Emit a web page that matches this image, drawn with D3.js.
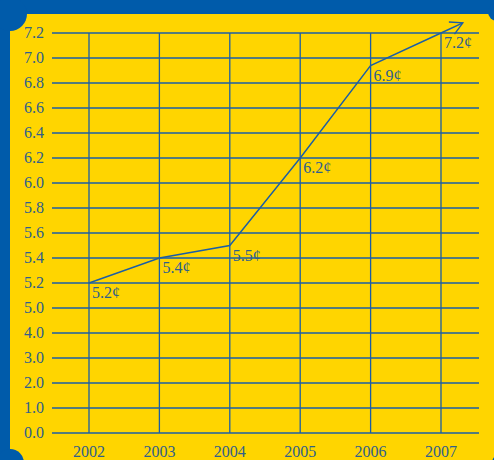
<!DOCTYPE html>
<meta charset="utf-8">
<style>
  body { margin: 0; }
  text { font-family: "Liberation Serif", "Times New Roman", serif; }
</style>
<svg width="494" height="460"></svg>
<script src="https://d3js.org/d3.v7.min.js"></script>
<script>

var years = [2002, 2003, 2004, 2005, 2006, 2007];
var prices = [5.2, 5.4, 5.5, 6.2, 6.94, 7.2];
var yTicks = [0, 1, 2, 3, 4, 5, 5.2, 5.4, 5.6, 5.8, 6.0, 6.2, 6.4, 6.6, 6.8, 7.0, 7.2];

var blue = "#005baa",
    yellow = "#ffd500",
    ink = "#1b5ea6",
    textInk = "#2f5f8c";

var svg = d3.select("svg");

// frame
svg.append("rect").attr("width", 494).attr("height", 460).attr("fill", blue);
svg.append("rect").attr("x", 10).attr("y", 14).attr("width", 484).attr("height", 446).attr("fill", yellow);
[[10, 14, 17], [10, 463, 14], [497, 12, 9], [501, 463, 9]].forEach(function(c) {
  svg.append("circle").attr("cx", c[0]).attr("cy", c[1]).attr("r", c[2]).attr("fill", blue);
});

// broken scale: 0-5 compressed, 5-7.2 expanded
var x = d3.scaleLinear().domain([2002, 2007]).range([89, 441]);
var y = d3.scaleLinear().domain([0, 5, 7.2]).range([433, 308, 33]);

var left = 52, right = 479;

svg.append("g")
  .selectAll("line")
  .data(yTicks)
  .enter().append("line")
    .attr("x1", left).attr("x2", right)
    .attr("y1", function(d) { return y(d); })
    .attr("y2", function(d) { return y(d); })
    .attr("stroke", ink).attr("stroke-width", 1.3);

svg.append("g")
  .selectAll("line")
  .data(years)
  .enter().append("line")
    .attr("x1", function(d) { return x(d); })
    .attr("x2", function(d) { return x(d); })
    .attr("y1", y(7.2)).attr("y2", y(0))
    .attr("stroke", ink).attr("stroke-width", 1.3);

svg.append("g")
  .selectAll("text")
  .data(yTicks)
  .enter().append("text")
    .attr("x", 44)
    .attr("y", function(d) { return y(d); })
    .attr("dy", "0.33em")
    .attr("text-anchor", "end")
    .attr("font-size", 16)
    .attr("fill", textInk)
    .text(d3.format(".1f"));

svg.append("g")
  .selectAll("text")
  .data(years)
  .enter().append("text")
    .attr("x", function(d) { return x(d); })
    .attr("y", 457)
    .attr("text-anchor", "middle")
    .attr("font-size", 16)
    .attr("fill", textInk)
    .text(function(d) { return d; });

// line with arrow continuing past the last point
var pts = years.map(function(d, i) { return [x(d), y(prices[i])]; });
var a = pts[pts.length - 2], b = pts[pts.length - 1];
var tip = [b[0] + (b[0] - a[0]) * 0.31, b[1] + (b[1] - a[1]) * 0.31];

svg.append("path")
  .attr("d", d3.line()(pts.concat([tip])))
  .attr("fill", "none")
  .attr("stroke", ink)
  .attr("stroke-width", 1.4);

var ang = Math.atan2(tip[1] - b[1], tip[0] - b[0]);
var wing = function(off) {
  return [tip[0] - 14 * Math.cos(ang + off), tip[1] - 14 * Math.sin(ang + off)];
};
svg.append("path")
  .attr("d", d3.line()([wing(-0.5), tip, wing(0.5)]))
  .attr("fill", "none")
  .attr("stroke", ink)
  .attr("stroke-width", 1.4);

svg.append("g")
  .selectAll("text")
  .data(pts)
  .enter().append("text")
    .attr("x", function(d) { return d[0] + 3; })
    .attr("y", function(d) { return d[1] + 15; })
    .attr("font-size", 16)
    .attr("fill", textInk)
    .text(function(d, i) { return d3.format(".1f")(prices[i]) + "¢"; });

</script>
